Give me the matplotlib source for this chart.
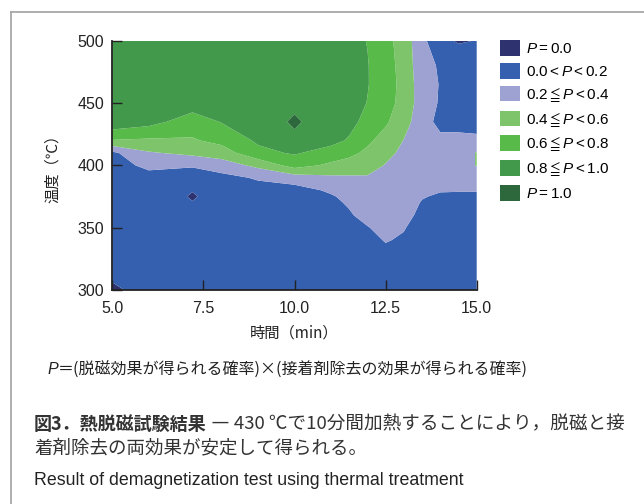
import numpy as np
import matplotlib
matplotlib.use("Agg")
import matplotlib.pyplot as plt
from matplotlib.patches import Patch
from matplotlib.lines import Line2D

# ---------------- data ----------------
time_min = [5, 6, 7.2, 8, 9, 10, 11, 11.5, 12, 12.5, 13, 13.5, 14, 14.5, 15]
temp_c = [300, 320, 340, 350, 360, 370, 375, 380, 390, 400, 410, 420, 435, 450, 465, 480, 500]
# P values: one row per temperature, one column per time
p_300 = [0, 0.03, 0.05, 0.06, 0.07, 0.08, 0.09, 0.1, 0.1, 0.1, 0.08, 0.07, 0.06, 0.05, 0.04]
p_320 = [0.033, 0.06, 0.07, 0.08, 0.09, 0.1, 0.1, 0.11, 0.11, 0.12, 0.1, 0.09, 0.08, 0.07, 0.06]
p_340 = [0.06, 0.08, 0.08, 0.09, 0.1, 0.11, 0.12, 0.13, 0.15, 0.21, 0.18, 0.11, 0.1, 0.09, 0.08]
p_350 = [0.07, 0.09, 0.08, 0.09, 0.1, 0.12, 0.13, 0.15, 0.19, 0.26, 0.21, 0.13, 0.11, 0.1, 0.1]
p_360 = [0.08, 0.1, 0.06, 0.09, 0.11, 0.12, 0.14, 0.18, 0.26, 0.3, 0.25, 0.16, 0.13, 0.12, 0.12]
p_370 = [0.09, 0.09, 0.014, 0.07, 0.12, 0.11, 0.16, 0.22, 0.3, 0.32, 0.27, 0.19, 0.16, 0.15, 0.15]
p_375 = [0.09, 0.08, 0, 0.055, 0.12, 0.11, 0.18, 0.25, 0.32, 0.33, 0.28, 0.21, 0.18, 0.17, 0.17]
p_380 = [0.1, 0.1, 0.014, 0.07, 0.13, 0.12, 0.23, 0.28, 0.34, 0.34, 0.29, 0.23, 0.21, 0.21, 0.21]
p_390 = [0.11, 0.14, 0.1, 0.14, 0.22, 0.3, 0.36, 0.37, 0.38, 0.37, 0.31, 0.25, 0.24, 0.25, 0.3]
p_400 = [0.13, 0.24, 0.22, 0.3, 0.45, 0.68, 0.56, 0.52, 0.48, 0.39, 0.33, 0.26, 0.27, 0.3, 0.41]
p_410 = [0.16, 0.38, 0.45, 0.5, 0.75, 0.82, 0.72, 0.65, 0.56, 0.45, 0.36, 0.27, 0.28, 0.3, 0.41]
p_420 = [0.59, 0.57, 0.58, 0.66, 0.83, 0.975, 0.86, 0.78, 0.64, 0.52, 0.395, 0.28, 0.25, 0.26, 0.28]
p_435 = [0.95, 0.87, 0.7, 0.81, 0.95, 1.0, 0.95, 0.86, 0.74, 0.63, 0.47, 0.295, 0.137, 0.12, 0.05]
p_450 = [0.93, 0.93, 0.9, 0.92, 0.93, 0.975, 0.92, 0.88, 0.795, 0.68, 0.53, 0.3, 0.181, 0.1, 0.08]
p_465 = [0.93, 0.93, 0.93, 0.93, 0.93, 0.95, 0.9, 0.87, 0.81, 0.69, 0.54, 0.29, 0.19, 0.1, 0.08]
p_480 = [0.93, 0.93, 0.93, 0.93, 0.93, 0.94, 0.89, 0.86, 0.81, 0.68, 0.53, 0.27, 0.178, 0.08, 0.06]
p_500 = [0.93, 0.93, 0.93, 0.93, 0.93, 0.93, 0.88, 0.85, 0.795, 0.664, 0.512, 0.258, 0.036, 0, 0.0125]

levels = [0, 0.01, 0.2, 0.4, 0.6, 0.8, 0.99, 1.0]
band_colors = ["#2e326e", "#3560b0", "#9ea2d3", "#7dc46a", "#58ba48", "#42994b", "#2d683c"]
legend_labels = [r"$P=0.0$", r"$0.0<P<0.2$", r"$0.2\leqq P<0.4$", r"$0.4\leqq P<0.6$",
                 r"$0.6\leqq P<0.8$", r"$0.8\leqq P<1.0$", r"$P=1.0$"]
x_ticks = [5.0, 7.5, 10.0, 12.5, 15.0]
y_ticks = [300, 350, 400, 450, 500]

# ---------------- styling ----------------
plt.rcParams["font.family"] = ["Liberation Sans", "Noto Sans CJK JP", "DejaVu Sans"]
plt.rcParams["mathtext.fontset"] = "custom"
plt.rcParams["mathtext.rm"] = "Liberation Sans"
plt.rcParams["mathtext.it"] = "Liberation Sans:italic"
plt.rcParams["mathtext.fallback"] = "stixsans"

W, H = 644, 504
fig = plt.figure(figsize=(W / 100, H / 100), dpi=100)
fig.patch.set_facecolor("white")

def fx(px):
    return px / W

def fy(py):
    return 1 - py / H

ax = fig.add_axes([fx(112.3), fy(290), fx(476.7) - fx(112.3), fy(40.7) - fy(290)])

Z = np.array([p_300, p_320, p_340, p_350, p_360, p_370, p_375, p_380, p_390,
              p_400, p_410, p_420, p_435, p_450, p_465, p_480, p_500])
ax.contourf(time_min, temp_c, Z, levels=levels, colors=band_colors, antialiased=True)

ax.set_xlim(5, 15)
ax.set_ylim(300, 500)
ax.set_xticks(x_ticks)
ax.set_xticklabels([f"{v:.1f}" for v in x_ticks])
ax.set_yticks(y_ticks)
for s in ["top", "right"]:
    ax.spines[s].set_visible(False)
for s in ["left", "bottom"]:
    ax.spines[s].set_linewidth(1.3)
    ax.spines[s].set_color("#222222")
    ax.spines[s].set_zorder(5)
ax.tick_params(direction="in", length=7, width=1.0, colors="#222222",
               labelsize=11.5, pad=6, labelcolor="#222222")
ax.tick_params(axis="x", pad=8)

ax.set_xlabel("時間（min）", fontsize=11, family=["Noto Sans CJK JP", "DejaVu Sans"],
              color="#222222", labelpad=6)
ax.set_ylabel("温度（℃）", fontsize=11, family=["Noto Sans CJK JP", "DejaVu Sans"],
              color="#222222", labelpad=12)

handles = [Patch(facecolor=c, edgecolor="none") for c in band_colors]
fig.legend(handles, legend_labels, loc="upper left",
           bbox_to_anchor=(fx(500), fy(40)), frameon=False, borderpad=0,
           borderaxespad=0, handlelength=1.3, handleheight=1.2, handletextpad=0.4,
           labelspacing=0.45, prop={"size": 11})

# frame around the figure block
fig.add_artist(Line2D([fx(11), 1.0], [fy(11.5), fy(11.5)], color="#a8a8a8", lw=1.3))
fig.add_artist(Line2D([fx(11), fx(11)], [fy(11.5), 0.0], color="#a8a8a8", lw=1.3))

# formula line
t1 = fig.text(fx(47), fy(370), "P", fontsize=11.5, style="italic",
              family=["Liberation Sans"], va="center", color="#222222")
ax.annotate("＝(脱磁効果が得られる確率)×(接着剤除去の効果が得られる確率)",
            xy=(1, 0.5), xycoords=t1, va="center", ha="left", fontsize=11.5,
            family=["Noto Sans CJK JP", "DejaVu Sans"], color="#222222",
            annotation_clip=False)

# caption
c1 = fig.text(fx(34), fy(424), "図3．熱脱磁試験結果", fontsize=13, weight="bold",
              family=["Noto Sans CJK JP", "DejaVu Sans"], va="center", color="#333333")
ax.annotate(" ― 430 ℃で10分間加熱することにより，脱磁と接", xy=(1, 0.5), xycoords=c1,
            va="center", ha="left", fontsize=13.4,
            family=["Noto Sans CJK JP", "DejaVu Sans"], color="#333333",
            annotation_clip=False)
fig.text(fx(34), fy(448.5), "着剤除去の両効果が安定して得られる。", fontsize=13.3,
         family=["Noto Sans CJK JP", "DejaVu Sans"], va="center", color="#333333")
fig.text(fx(34), fy(480.5), "Result of demagnetization test using thermal treatment",
         fontsize=12.8, family=["Liberation Sans"], va="center", color="#222222")

fig.savefig("out.png", dpi=100, facecolor="white")
